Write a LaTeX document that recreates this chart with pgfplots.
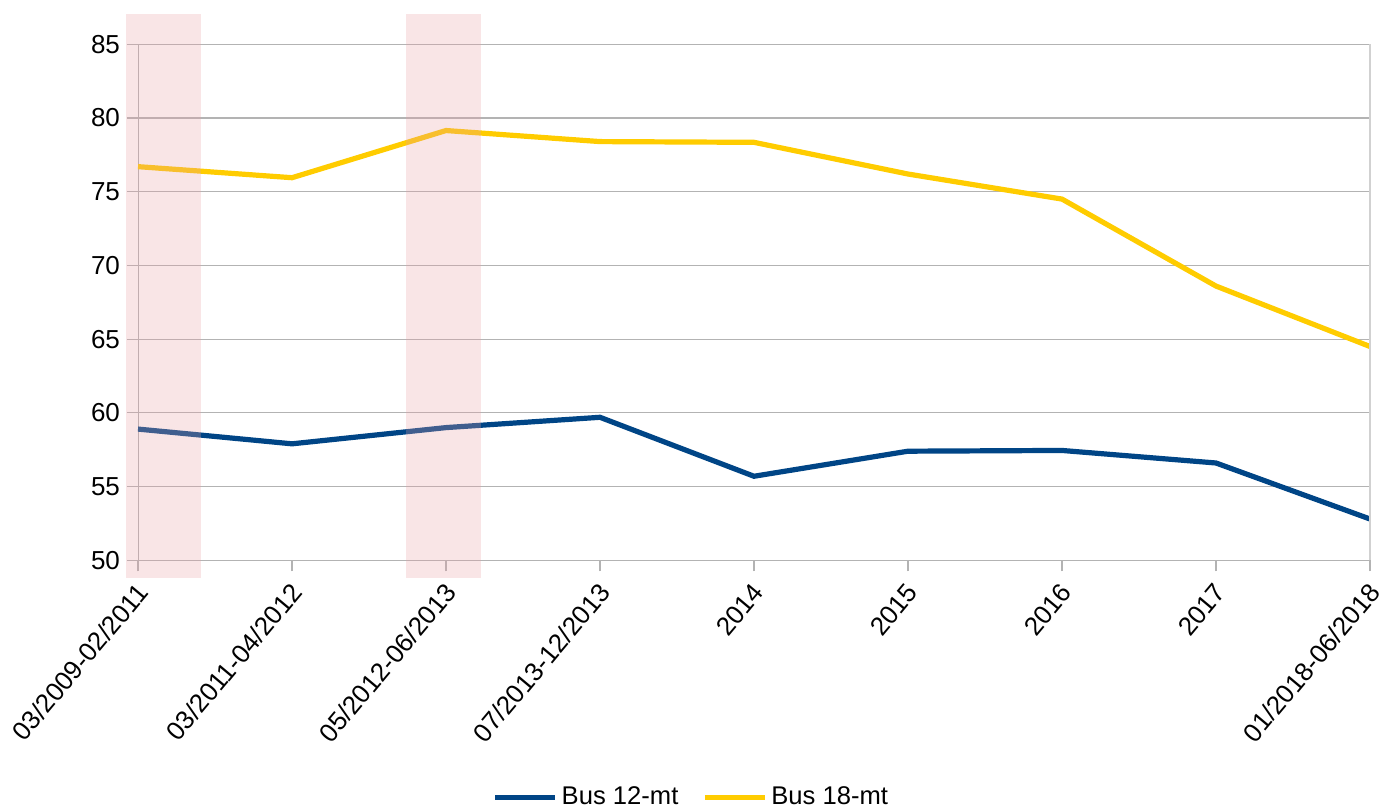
\documentclass[border=0pt]{standalone}
\usepackage{pgfplots}
\pgfplotsset{compat=1.18}
\usepackage{fontspec}
\setmainfont{Liberation Sans}
\definecolor{bus12}{HTML}{004586}
\definecolor{bus18}{RGB}{255,204,0}
\definecolor{band}{RGB}{232,160,165}
\definecolor{gridc}{RGB}{179,179,179}

\begin{document}
\begin{tikzpicture}
\begin{axis}[
    scale only axis,
    width=616pt, height=258pt,
    xmin=0, xmax=8,
    ymin=50, ymax=85,
    clip=false,
    axis lines*=left,
    axis line style={draw=gridc},
    ytick={50,55,...,85},
    ymajorgrids,
    major grid style={draw=gridc, line width=0.6pt},
    xtick={0,...,8},
    xticklabels={03/2009-02/2011,03/2011-04/2012,05/2012-06/2013,07/2013-12/2013,2014,2015,2016,2017,01/2018-06/2018},
    x tick label style={rotate=50, anchor=north east, inner sep=2pt, xshift=-2.5pt},
    tick align=outside,
    major tick length=5.5pt,
    tick style={draw=gridc, line width=0.6pt},
    tick label style={font=\fontsize{13}{15}\selectfont},
    /pgf/number format/assume math mode=true,
    legend columns=2,
    legend style={draw=none, at={(0.45,-0.459)}, anchor=center,
        font=\fontsize{12.8}{15}\selectfont,
        /tikz/every even column/.append style={column sep=10pt}},
    legend image code/.code={\draw[#1, line width=2.5pt] (0pt,0pt) -- (30pt,0pt);},
]
\addplot[bus12, line width=2.6pt] coordinates {
    (0,58.9) (1,57.9) (2,59.0) (3,59.7) (4,55.7) (5,57.4) (6,57.45) (7,56.6) (8,52.8)};
\addlegendentry{Bus 12-mt}
\addplot[bus18, line width=2.6pt] coordinates {
    (0,76.7) (1,75.95) (2,79.15) (3,78.4) (4,78.35) (5,76.2) (6,74.5) (7,68.6) (8,64.5)};
\addlegendentry{Bus 18-mt}

% highlighted periods
\addplot[forget plot, draw=none, fill=band, fill opacity=0.28]
    coordinates {(-0.078,48.8) (0.407,48.8) (0.407,87.05) (-0.078,87.05)} -- cycle;
\addplot[forget plot, draw=none, fill=band, fill opacity=0.28]
    coordinates {(1.74,48.8) (2.225,48.8) (2.225,87.05) (1.74,87.05)} -- cycle;

\draw[draw=gridc!60, line width=0.6pt] (rel axis cs:1,0) -- (rel axis cs:1,1);
\coordinate (bl) at (rel axis cs:0,0);
\coordinate (tr) at (rel axis cs:1,1);
\end{axis}
\pgfresetboundingbox
\path ([xshift=-69pt,yshift=-124.85pt]bl) rectangle ([xshift=11.5pt,yshift=22.15pt]tr);
\end{tikzpicture}
\end{document}
